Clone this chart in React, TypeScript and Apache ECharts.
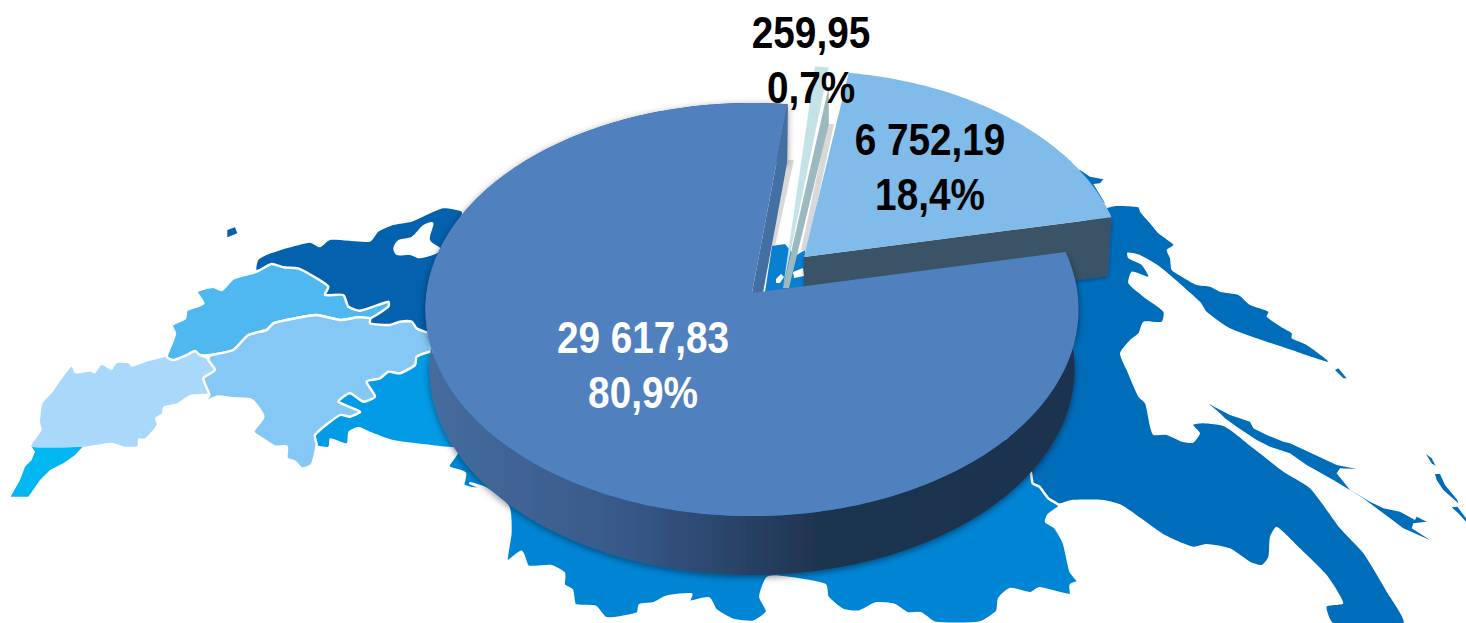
import React, { useEffect, useRef } from "react";
import * as echarts from "echarts";

const sliceNames = ["Main", "Small", "Medium"];
const sliceValues = [29617.83, 259.95, 6752.19];

// Perspective of the tilted disc
const CX = 752, CY = 293, RA = 325.5, RB = 205.2, PK = -0.08, DEPTH = 59, BOTTOM_SCALE = 0.988;
const sliceLook = [
  { top: "#5080BE", dx: 0, dy: 0, radial: 1, start: 78.3, spread: 0.991, lx: 643, ly: 365.5, txt: "#ffffff", z: 30 },
  { top: "#C5E3E6", dx: 31, dy: -5, radial: 1.17, start: 5.2, spread: 0.88, lx: 811, ly: 60.5, txt: "#000000", z: 20 },
  { top: "#80BBE9", dx: 52, dy: -36, radial: 0.98, start: 8.7, spread: 1.05, lx: 930, ly: 167.5, txt: "#000000", z: 10 },
];

const z2 = (p: number[][]) => p.map(([x, y]) => [x / 3, 190 + y / 3]);
const z3 = (p: number[][]) => p.map(([x, y]) => [1050 + x / 3, 170 + y / 3]);
const z4 = (p: number[][]) => p.map(([x, y]) => [430 + x / 2.24, 440 + y / 3]);

const mapCyan = z2([[95,770],[248,770],[225,795],[190,820],[150,840],[120,870],[85,920],[32,920],[60,870],[75,830],[95,810],[105,785]]);
const mapPale = z2([[95,770],[125,720],[120,695],[128,640],[155,610],[190,560],[215,530],[225,550],[270,545],[285,550],[305,525],[335,540],[350,520],[385,520],[395,530],[440,515],[460,510],[500,500],[520,510],[560,495],[585,483],[605,500],[625,510],[645,540],[610,565],[625,600],[625,610],[570,615],[530,640],[490,650],[485,670],[465,685],[470,705],[435,745],[415,745],[412,768],[375,770],[335,758],[250,770]]);
const mapSky = z2([[500,500],[515,460],[525,430],[515,405],[555,385],[560,360],[610,340],[590,305],[640,290],[665,300],[700,265],[770,245],[815,222],[850,232],[895,235],[950,265],[985,290],[975,315],[1030,315],[1045,350],[1080,362],[1165,335],[1165,350],[1110,385],[1075,382],[1020,390],[950,375],[885,385],[820,400],[800,420],[745,435],[700,480],[630,495],[600,495],[585,483],[560,495],[520,510]]);
const mapLight = z2([[630,497],[700,480],[745,435],[800,420],[820,400],[885,385],[950,375],[1020,390],[1075,382],[1110,385],[1110,400],[1170,405],[1200,395],[1235,395],[1250,415],[1290,430],[1330,430],[1330,485],[1290,485],[1250,500],[1245,525],[1200,550],[1165,545],[1140,565],[1100,575],[1125,620],[1090,635],[1050,610],[1015,635],[1080,665],[1050,680],[1020,675],[945,735],[950,765],[935,825],[905,835],[885,815],[860,805],[860,770],[825,770],[785,745],[760,725],[790,680],[755,630],[700,625],[650,620],[610,640],[628,615],[610,565],[645,540],[625,510]]);
const mapNavy = z2([[770,240],[775,210],[800,195],[860,175],[930,158],[960,172],[990,150],[1110,155],[1135,125],[1180,105],[1235,95],[1280,75],[1330,55],[1385,65],[1385,90],[1500,60],[1560,200],[1560,430],[1290,430],[1250,415],[1235,395],[1200,395],[1170,405],[1110,400],[1110,385],[1165,350],[1165,335],[1080,362],[1045,350],[1030,315],[975,315],[985,290],[950,265],[895,235],[850,232],[815,222]]);
const mapNavyLake = z2([[1180,175],[1195,150],[1235,140],[1270,105],[1300,98],[1290,150],[1325,180],[1260,205],[1230,195],[1190,195]]);
const mapNavyIsle = z2([[682,120],[705,112],[712,130],[682,142]]);
const mapAzure = z2([[1290,485],[1250,500],[1245,525],[1200,550],[1165,545],[1140,565],[1100,575],[1125,620],[1090,635],[1050,610],[1015,635],[1080,665],[1050,680],[1020,675],[945,735],[950,765],[985,770],[990,745],[1040,760],[1045,725],[1075,710],[1110,725],[1180,750],[1270,762],[1340,770],[1400,770],[1500,700],[1500,485]]);
const mapOcean = [
  ...z2([[1370,790],[1345,830],[1395,850],[1390,885],[1415,895],[1450,895]]),
  ...z4([[90,130],[125,145],[175,200],[180,280],[172,365],[205,335],[220,380],[270,378],[300,400],[300,435],[318,450],[325,495],[370,500],[395,535],[465,520],[470,495],[500,490],[530,470],[585,463],[580,485],[625,475],[640,510],[680,540],[725,545],[755,515],[740,470],[755,415],[780,410],[885,435],[890,470],[925,510],[960,515],[1000,490],[1040,495],[1070,520],[1100,520],[1130,548],[1230,548],[1270,515],[1275,475],[1300,447],[1345,460],[1365,445],[1435,465],[1435,435],[1452,425],[1435,395],[1420,310],[1400,262],[1380,245],[1385,225],[1410,198],[1385,175],[1365,140],[1350,130],[1345,95]]),
  [1000, 430], [1000, 300], [800, 300], [500, 340],
];
const mapDeep = [
  ...z3([[170,115],[200,108],[265,112],[270,125],[300,160],[325,190],[370,225],[350,240],[360,265],[365,300],[395,320],[440,345],[480,350],[510,365],[565,375],[600,405],[655,425],[650,440],[700,475],[725,490],[725,505],[770,525],[835,575],[740,545],[620,505],[540,475],[470,425],[450,395],[330,290],[270,255],[232,248],[235,265],[275,285],[295,320],[245,305],[235,340],[280,380],[340,425],[335,455],[280,455],[265,490],[240,510],[210,550],[230,600],[265,680],[285,700],[300,770],[310,795],[350,795],[395,815],[430,818],[450,790],[430,765],[460,760],[525,770],[610,835],[700,905],[780,955],[870,1075],[940,1150],[1010,1265],[1060,1359],[850,1359],[830,1310],[880,1300],[830,1215],[745,1130],[680,1070],[660,1100],[655,1160],[635,1185],[600,1175],[540,1135],[470,1122],[430,1130],[345,1095],[215,1005],[160,990],[65,990],[30,1000],[-30,1010]]),
  [1020, 470], [1000, 400], [1000, 280],
];
const mapSlivers = [
  z3([[475,700],[495,712],[540,735],[600,755],[610,775],[650,795],[700,815],[720,820],[860,885],[920,897],[870,895],[860,910],[900,960],[960,995],[1000,1015],[1050,1025],[1095,1050],[1100,1040],[1130,1055],[1090,1060],[1085,1075],[1140,1110],[1060,1075],[1000,1030],[940,985],[850,930],[770,885],[720,850],[660,830],[620,810],[560,770],[525,745],[510,730]]),
  z3([[855,600],[865,595],[890,625],[880,625]]),
  z3([[1128,852],[1145,865],[1157,888],[1145,880]]),
  z3([[1155,912],[1170,912],[1185,945],[1222,990],[1225,1000],[1180,960],[1160,930]]),
  z3([[1205,1012],[1222,1010],[1248,1045],[1248,1055],[1225,1030]]),
  z3([[90,0],[120,20],[160,28],[150,40],[130,42],[165,100],[120,70],[80,0]]),
];
const gapBlue = [[765,292],[772,246],[785,244],[795,256],[805,250],[806,292]];
const gapFlecks = [
  [[776,279],[781,274],[784,277],[780,283],[776,283]],
  [[793,272],[803,268],[804,276],[794,278]],
];
const gapShadows = [
  [[788,160],[794,160],[775,246],[771,246]],
  [[828,124],[834,124],[807,250],[801,250]],
];

const total = sliceValues.reduce((a, b) => a + b, 0);
const fmtValue = (v: number) => {
  const [i, d] = v.toFixed(2).split(".");
  return i.replace(/\B(?=(\d{3})+$)/g, " ") + "," + d;
};
const fmtPct = (v: number) => ((v / total) * 100).toFixed(1).replace(".", ",") + "%";

function project(deg: number, radial: number, dx: number, dy: number, lower: boolean) {
  const t = (deg * Math.PI) / 180;
  const u = Math.sin(t) * radial, v = -Math.cos(t) * radial;
  const w = 1 + PK * -Math.cos(t);
  const s = lower ? BOTTOM_SCALE : 1;
  return [CX + dx + (RA * u * s) / w, CY + dy + (RB * v) / w + (lower ? DEPTH : 0)];
}

function renderSlice(params: any, api: any) {
  const i = params.dataIndex;
  const value = api.value(0);
  const look = sliceLook[i];
  const span = (value / total) * 360 * look.spread;
  const a0 = look.start;
  const { dx, dy, radial, z } = look;
  const arc: number[][] = [];
  const low: number[][] = [];
  const steps = Math.max(2, Math.ceil(span));
  for (let k = 0; k <= steps; k++) {
    const a = a0 + (span * k) / steps;
    arc.push(project(a, radial, dx, dy, false));
    low.push(project(a, radial, dx, dy, true));
  }
  const apex = [CX + dx, CY + dy];
  const apexLow = project(0, 0, dx, dy, true);
  const children: any[] = [];
  if (i === 0) {
    children.push({
      type: "polygon", z2: z,
      shape: { points: [...arc, ...low.slice().reverse()] },
      style: {
        fill: new echarts.graphic.LinearGradient(0, 0, 1, 0, [
          { offset: 0, color: "#466C9E" },
          { offset: 0.3, color: "#38598A" },
          { offset: 0.6, color: "#1F3450" },
          { offset: 1, color: "#1F3350" },
        ]),
        shadowBlur: 7, shadowColor: "rgba(0,0,0,0.45)", shadowOffsetY: 2,
      },
    });
    children.push({
      type: "polygon", z2: z + 1,
      shape: { points: [arc[arc.length - 1], low[low.length - 1], apexLow, apex] },
      style: { fill: "#446FA3" },
    });
  } else if (i === 2) {
    children.push({
      type: "polygon", z2: z,
      shape: { points: [apex, arc[steps], low[steps], apexLow] },
      style: { fill: "#3A5366", shadowBlur: 4, shadowColor: "rgba(0,0,0,0.35)", shadowOffsetY: 1 },
    });
  }
  children.push({
    type: "polygon", z2: z + 2,
    shape: { points: [apex, ...arc] },
    style: { fill: look.top },
  });
  if (i === 1) {
    const outer = arc[arc.length - 1];
    children.push({
      type: "polygon", z2: z + 3,
      shape: { points: [apex, [outer[0], outer[1] + 19], [outer[0], outer[1] + 57], [apex[0] + 6, apex[1]]] },
      style: { fill: "#9BB9BE" },
    });
  }
  children.push({
    type: "text", z2: 100, x: look.lx, y: look.ly, scaleX: 0.88,
    style: {
      text: fmtValue(value) + "\n" + fmtPct(value),
      x: 0, y: 0, align: "center", verticalAlign: "middle",
      font: 'bold 44px "Liberation Sans", Arial, sans-serif',
      lineHeight: 55, fill: look.txt,
    },
  });
  return { type: "group", children };
}

const region = (points: number[][], fill: string, z: number, stroke?: string, smooth = 0) => ({
  type: "polygon", silent: true, z,
  shape: { points, smooth },
  style: { fill, stroke: stroke || undefined, lineWidth: stroke ? 2.5 : 0, lineJoin: "round" },
});

export default function App() {
  const ref = useRef<HTMLDivElement>(null);
  useEffect(() => {
    document.body.style.margin = "0";
    const chart = echarts.init(ref.current!, undefined, { renderer: "svg" });
    chart.setOption({
      animation: false,
      backgroundColor: "#ffffff",
      graphic: {
        elements: [
          region(mapCyan, "#00B7F1", 1),
          region(mapDeep, "#006DBB", 1, undefined, 0.2),
          ...mapSlivers.map((p) => region(p, "#006DBB", 1)),
          region(mapOcean, "#0085D5", 2, "#ffffff", 0.2),
          region(mapNavy, "#0361AD", 2, undefined, 0.2),
          region(mapNavyLake, "#ffffff", 3, undefined, 0.3),
          region(mapNavyIsle, "#0361AD", 2),
          region(mapAzure, "#039BE5", 3, undefined, 0.2),
          region(mapPale, "#A9D8FA", 4, undefined, 0.2),
          region(mapSky, "#4FB8F0", 4, "#ffffff", 0.2),
          region(mapLight, "#85C8F5", 5, "#ffffff", 0.2),
          ...gapShadows.map((p) =>
            region(p, "#D8D8D8", 6)
          ),
          region(gapBlue, "#0B7FCF", 6),
          ...gapFlecks.map((p) => region(p, "#ffffff", 7)),
        ],
      },
      series: [
        {
          type: "custom",
          coordinateSystem: "none",
          z: 20,
          silent: true,
          data: sliceValues.map((v, i) => ({ name: sliceNames[i], value: [v] })),
          renderItem: renderSlice,
        },
      ],
    });
    return () => chart.dispose();
  }, []);
  return <div ref={ref} style={{ position: "fixed", left: 0, top: 0, width: 1466, height: 623 }} />;
}
